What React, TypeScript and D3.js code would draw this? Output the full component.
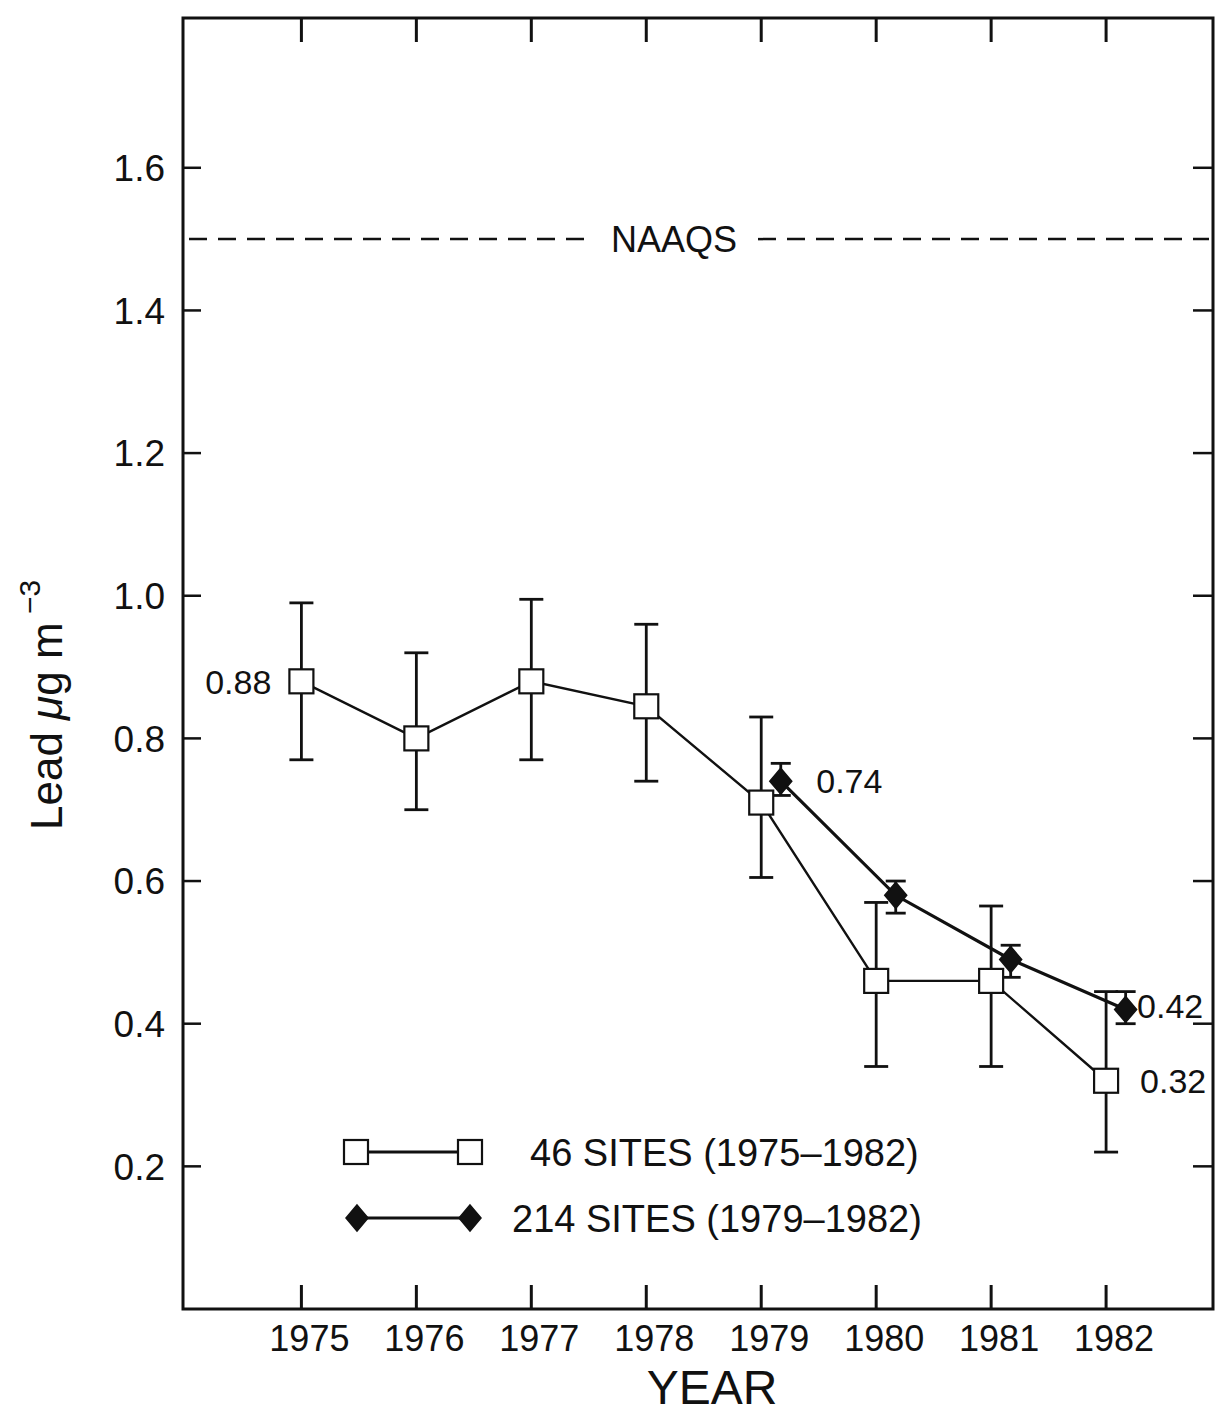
import React from 'react';
import * as d3 from 'd3';

// 46 sites, 1975-1982 (open squares)
const years = [1975, 1976, 1977, 1978, 1979, 1980, 1981, 1982];
const sites46 = [0.88, 0.80, 0.88, 0.845, 0.71, 0.46, 0.46, 0.32];
const sites46Hi = [0.99, 0.92, 0.995, 0.96, 0.83, 0.57, 0.565, 0.445];
const sites46Lo = [0.77, 0.70, 0.77, 0.74, 0.605, 0.34, 0.34, 0.22];

// 214 sites, 1979-1982 (filled diamonds)
const years214 = [1979, 1980, 1981, 1982];
const sites214 = [0.74, 0.58, 0.49, 0.42];
const sites214Hi = [0.765, 0.60, 0.51, 0.445];
const sites214Lo = [0.72, 0.555, 0.465, 0.40];

const yTicks = [0.2, 0.4, 0.6, 0.8, 1.0, 1.2, 1.4, 1.6];
const naaqs = 1.5;

const pointLabels = [
  { text: '0.88', year: 1975, value: 0.88, dx: -30, anchor: 'end' },
  { text: '0.74', year: 1979, value: 0.74, dx: 55, anchor: 'start' },
  { text: '0.42', year: 1982, value: 0.425, dx: 31, anchor: 'start' },
  { text: '0.32', year: 1982, value: 0.32, dx: 34, anchor: 'start' },
];

const legend = [
  { label: '46 SITES (1975\u20131982)', kind: 'square' },
  { label: '214 SITES (1979\u20131982)', kind: 'diamond' },
];

const W = 1221;
const H = 1417;
const margin = { top: 18, right: 8, bottom: 108, left: 183 };
const font = '"Liberation Sans", Arial, Helvetica, sans-serif';

const Square = ({ cx, cy }: { cx: number; cy: number }) => (
  <rect x={cx - 12} y={cy - 12} width={24} height={24} fill="#fff" stroke="#111" strokeWidth={2.2} />
);

const Diamond = ({ cx, cy }: { cx: number; cy: number }) => (
  <path d={`M${cx},${cy - 13}L${cx + 11},${cy}L${cx},${cy + 13}L${cx - 11},${cy}Z`} fill="#111" stroke="#111" strokeWidth={1.5} />
);

export default function App() {
  const left = margin.left;
  const right = W - margin.right;
  const top = margin.top;
  const bottom = H - margin.bottom;

  const x = d3.scaleLinear().domain([1973.97, 1982.93]).range([left, right]);
  const y = d3.scaleLinear().domain([0, 1.81]).range([bottom, top]);
  const dodge = 0.17;

  const line = d3.line<[number, number]>()
    .x(d => x(d[0]))
    .y(d => y(d[1]));

  const pts46 = years.map((yr, i) => [yr, sites46[i]] as [number, number]);
  const pts214 = years214.map((yr, i) => [yr + dodge, sites214[i]] as [number, number]);

  const naaqsY = y(naaqs);
  const gapL = 590;
  const gapR = 758;

  return (
    <svg width={W} height={H} style={{ position: 'absolute', left: 0, top: 0, background: '#fff' }} fontFamily={font}>
      <rect width={W} height={H} fill="#fff" />

      {/* frame */}
      <rect x={left} y={top} width={right - left} height={bottom - top} fill="none" stroke="#111" strokeWidth={3} />

      {/* x ticks top and bottom */}
      {years.map(yr => (
        <g key={yr}>
          <line x1={x(yr)} x2={x(yr)} y1={top} y2={top + 24} stroke="#111" strokeWidth={3} />
          <line x1={x(yr)} x2={x(yr)} y1={bottom} y2={bottom - 24} stroke="#111" strokeWidth={3} />
          <text x={x(yr) + 8} y={1351} fontSize={36} textAnchor="middle" fill="#111">
            {yr}
          </text>
        </g>
      ))}

      {/* y ticks left and right */}
      {yTicks.map(v => (
        <g key={v}>
          <line x1={left} x2={left + 18} y1={y(v)} y2={y(v)} stroke="#111" strokeWidth={2.5} />
          <line x1={right} x2={right - 20} y1={y(v)} y2={y(v)} stroke="#111" strokeWidth={2.5} />
          <text x={165} y={y(v)} dy="0.36em" fontSize={37} textAnchor="end" fill="#111">
            {d3.format('.1f')(v)}
          </text>
        </g>
      ))}

      {/* NAAQS dashed line */}
      <line x1={left + 6} x2={gapL} y1={naaqsY} y2={naaqsY} stroke="#111" strokeWidth={2.5} strokeDasharray="18 11" />
      <line x1={gapR} x2={right - 4} y1={naaqsY} y2={naaqsY} stroke="#111" strokeWidth={2.5} strokeDasharray="18 11" />
      <text x={(gapL + gapR) / 2} y={naaqsY} dy="0.36em" fontSize={36} textAnchor="middle" fill="#111">NAAQS</text>

      {/* error bars */}
      {years.map((yr, i) => (
        <g key={'e46' + yr} stroke="#111" strokeWidth={2.8}>
          <line x1={x(yr)} x2={x(yr)} y1={y(sites46Hi[i])} y2={y(sites46Lo[i])} />
          <line x1={x(yr) - 12} x2={x(yr) + 12} y1={y(sites46Hi[i])} y2={y(sites46Hi[i])} />
          <line x1={x(yr) - 12} x2={x(yr) + 12} y1={y(sites46Lo[i])} y2={y(sites46Lo[i])} />
        </g>
      ))}
      {years214.map((yr, i) => (
        <g key={'e214' + yr} stroke="#111" strokeWidth={2.8}>
          <line x1={x(yr + dodge)} x2={x(yr + dodge)} y1={y(sites214Hi[i])} y2={y(sites214Lo[i])} />
          <line x1={x(yr + dodge) - 10} x2={x(yr + dodge) + 10} y1={y(sites214Hi[i])} y2={y(sites214Hi[i])} />
          <line x1={x(yr + dodge) - 10} x2={x(yr + dodge) + 10} y1={y(sites214Lo[i])} y2={y(sites214Lo[i])} />
        </g>
      ))}

      {/* series lines */}
      <path d={line(pts46) || ''} fill="none" stroke="#111" strokeWidth={2.4} />
      <path d={line(pts214) || ''} fill="none" stroke="#111" strokeWidth={3.2} />

      {/* markers */}
      {pts46.map(p => <Square key={'s' + p[0]} cx={x(p[0])} cy={y(p[1])} />)}
      {pts214.map(p => <Diamond key={'d' + p[0]} cx={x(p[0])} cy={y(p[1])} />)}

      {/* point labels */}
      {pointLabels.map(l => (
        <text key={l.text} x={x(l.year) + l.dx} y={y(l.value)} dy="0.36em" fontSize={34} textAnchor={l.anchor} fill="#111">
          {l.text}
        </text>
      ))}

      {/* legend */}
      {legend.map((item, i) => {
        const ly = 1152 + i * 66;
        return (
          <g key={item.label}>
            <line x1={356} x2={470} y1={ly} y2={ly} stroke="#111" strokeWidth={3} />
            {item.kind === 'square' ? (
              <>
                <Square cx={356} cy={ly} />
                <Square cx={470} cy={ly} />
              </>
            ) : (
              <>
                <Diamond cx={357} cy={ly} />
                <Diamond cx={470} cy={ly} />
              </>
            )}
            <text x={item.kind === 'square' ? 530 : 512} y={ly} dy="0.36em" fontSize={38} fill="#111">
              {item.label}
            </text>
          </g>
        );
      })}

      {/* axis titles */}
      <text x={712} y={1404} fontSize={48} textAnchor="middle" fill="#111">YEAR</text>
      <text transform="translate(62,830) rotate(-90)" fontSize={44} fill="#111">
        Lead <tspan fontStyle="italic">{'\u03bc'}</tspan>g m
        <tspan dy={-22} fontSize={30}>{' \u22123'}</tspan>
      </text>
    </svg>
  );
}
